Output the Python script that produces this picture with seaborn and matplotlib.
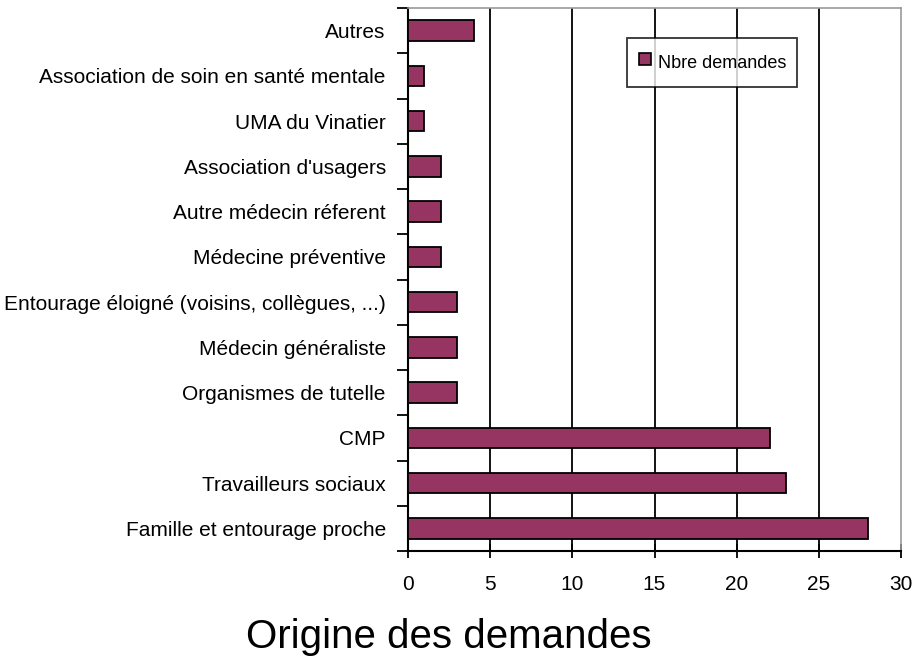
import matplotlib
matplotlib.use("Agg")
import matplotlib.pyplot as plt
from matplotlib.lines import Line2D
import numpy as np
import pandas as pd
import seaborn as sns

categories = [
    "Autres",
    "Association de soin en santé mentale",
    "UMA du Vinatier",
    "Association d'usagers",
    "Autre médecin réferent",
    "Médecine préventive",
    "Entourage éloigné (voisins, collègues, ...)",
    "Médecin généraliste",
    "Organismes de tutelle",
    "CMP",
    "Travailleurs sociaux",
    "Famille et entourage proche",
]
nb_demandes = [4, 1, 1, 2, 2, 2, 3, 3, 3, 22, 23, 28]
x_ticks = [0, 5, 10, 15, 20, 25, 30]

df = pd.DataFrame({"origine": categories, "n": nb_demandes})

sns.set_style("white")
plt.rcParams["font.family"] = ["Liberation Sans Narrow", "Liberation Sans", "DejaVu Sans"]
plt.rcParams["text.color"] = "black"
plt.rcParams["xtick.color"] = "black"
plt.rcParams["ytick.color"] = "black"

fig = plt.figure(figsize=(9.14, 6.59), dpi=100)
ax = fig.add_axes([408 / 914, 1 - 551 / 659, (901 - 408) / 914, (551 - 8) / 659])

bar_col = "#963462"
sns.barplot(data=df, y="origine", x="n", orient="h", color=bar_col,
            saturation=1, width=0.45, edgecolor="black", linewidth=1.3,
            ax=ax, zorder=3)

ax.set_xlim(0, 30)
ax.set_ylim(len(categories) - 0.5, -0.5)
ax.set_xticks(x_ticks)
ax.set_xticklabels([str(t) for t in x_ticks], fontsize=15)
ax.tick_params(axis="x", direction="inout", length=10, width=1.3, pad=12, bottom=True)
ax.set_yticks(range(len(categories)))
ax.set_yticklabels(categories, fontsize=15)
ax.tick_params(axis="y", which="major", length=0, pad=16)
ax.set_yticks(np.arange(-0.5, len(categories), 1), minor=True)
ax.tick_params(axis="y", which="minor", direction="out", length=8, width=1.3, left=True)

for v in x_ticks[1:-1]:
    ax.axvline(v, color="black", lw=1.3, zorder=1)

for side in ["left", "bottom"]:
    ax.spines[side].set_color("black")
    ax.spines[side].set_linewidth(1.5)
for side in ["top", "right"]:
    ax.spines[side].set_color("#999999")
    ax.spines[side].set_linewidth(1.2)

ax.set_xlabel("")
ax.set_ylabel("")

handle = Line2D([], [], ls="none", marker="s", markersize=9,
                markerfacecolor=bar_col, markeredgecolor="black", markeredgewidth=1.2)
leg = ax.legend([handle], ["Nbre demandes"], loc="upper left",
                bbox_to_anchor=(0.445, 0.945), fontsize=13,
                frameon=True, fancybox=False, handlelength=0.7, handleheight=2.0,
                handletextpad=0.4, borderpad=0.6, borderaxespad=0)
leg.get_frame().set_edgecolor("black")
leg.get_frame().set_linewidth(1.3)
leg.set_zorder(5)

fig.text(449 / 914, 1 - 637 / 659, "Origine des demandes", fontsize=29,
         family=["Liberation Sans", "DejaVu Sans"], ha="center", va="center")

fig.savefig("out.png", dpi=100)
